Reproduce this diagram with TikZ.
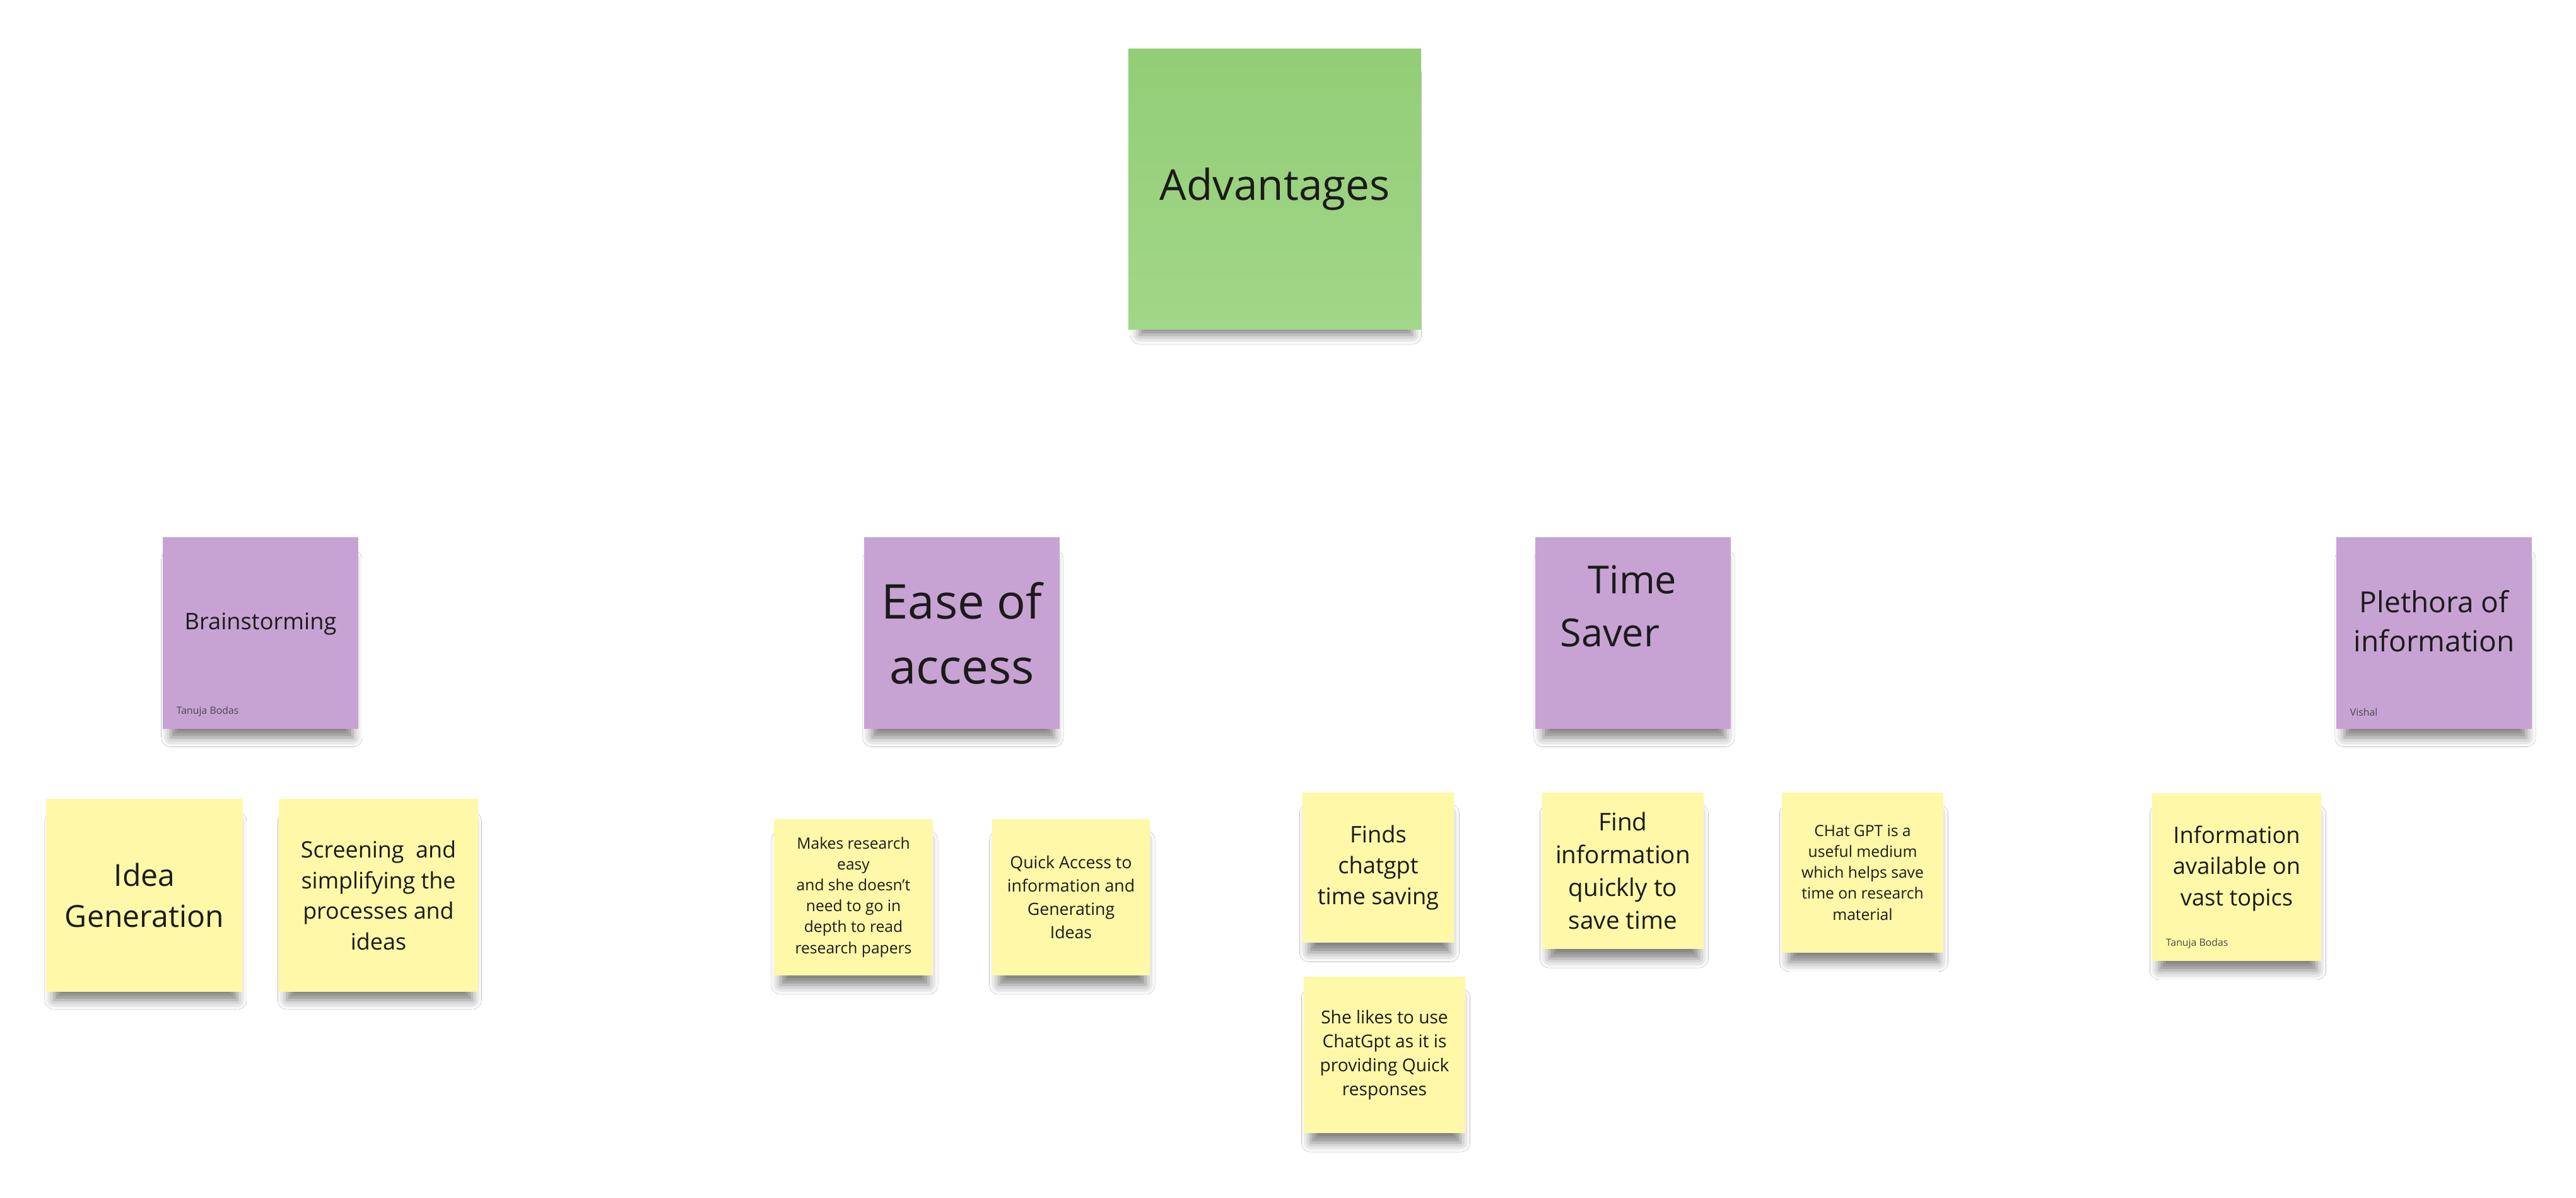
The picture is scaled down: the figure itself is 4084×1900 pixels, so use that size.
\documentclass[tikz,border=0pt]{standalone}
\usepackage{fontspec}
\setmainfont{Open Sans}
\usetikzlibrary{shadows.blur}
\definecolor{greentop}{HTML}{92CE76}
\definecolor{greenbot}{HTML}{A2D688}
\definecolor{notepurple}{HTML}{C7A3D4}
\definecolor{noteyellow}{HTML}{FEF8A8}
\definecolor{ink}{HTML}{1C1A1A}

\begin{document}
\begin{tikzpicture}[x=0.01cm,y=-0.01cm]
		\tikzstyle{sticky}=[rectangle,inner sep=4pt,align=center,text=ink,blur shadow={shadow xshift=0.02cm,shadow yshift=-0.26cm,shadow scale=0.93,shadow opacity=50,shadow blur radius=0.16cm}]
		\tikzstyle{head}=[sticky,top color=greentop,bottom color=greenbot,minimum width=4.64cm,minimum height=4.45cm]
		\tikzstyle{topic}=[sticky,fill=notepurple,minimum width=3.10cm,minimum height=3.04cm]
		\tikzstyle{idea}=[sticky,fill=noteyellow]
		\tikzstyle{signature}=[anchor=south west,inner sep=0pt,xshift=0.22cm,yshift=0.2cm,text=ink!80,font=\fontsize{4.5}{5}\selectfont]

		\fill[white] (0,0) rectangle (4084,1900);

		\node[head,font=\fontsize{19.2}{26}\selectfont] (adv) at (2021,300) {Advantages};

		\node[topic,font=\fontsize{10.3}{14}\selectfont,text depth=0.37cm] (brain) at (413,1004) {Brainstorming};
		\node[topic,font=\fontsize{21.6}{29.4}\selectfont] (ease) at (1525,1004) {Ease of\\access};
		\node[topic,font=\fontsize{17.4}{23.7}\selectfont,text depth=0.86cm,align=left] (time) at (2589,1004) {\rule{0.44cm}{0pt}Time\rule{0.46cm}{0pt}\\Saver};
		\node[topic,font=\fontsize{13.1}{17.8}\selectfont,text depth=0.38cm] (pleth) at (3859,1004) {Plethora of\\information};

		\node[idea,minimum width=3.12cm,minimum height=3.05cm,font=\fontsize{13.7}{18.6}\selectfont] (gen) at (229,1420) {Idea\\Generation};
		\node[idea,minimum width=3.15cm,minimum height=3.05cm,font=\fontsize{10.2}{13.9}\selectfont] (screen) at (600,1420) {Screening \ and\\simplifying the\\processes and\\ideas};
		\node[idea,minimum width=2.52cm,minimum height=2.47cm,font=\fontsize{7}{9.4}\selectfont] (easy) at (1353,1423) {Makes research\\easy\\and she doesn't\\need to go in\\depth to read\\research papers};
		\node[idea,minimum width=2.50cm,minimum height=2.47cm,font=\fontsize{7.6}{10.5}\selectfont] (quick) at (1698,1423) {Quick Access to\\information and\\Generating\\Ideas};
		\node[idea,minimum width=2.40cm,minimum height=2.37cm,font=\fontsize{10.3}{14}\selectfont] (finds) at (2185,1376) {Finds\\chatgpt\\time saving};
		\node[idea,minimum width=2.55cm,minimum height=2.47cm,font=\fontsize{8}{10.8}\selectfont] (likes) at (2195,1673) {She likes to use\\ChatGpt as it is\\providing Quick\\responses};
		\node[idea,minimum width=2.55cm,minimum height=2.47cm,font=\fontsize{11}{14.8}\selectfont] (fast) at (2573,1381) {Find\\information\\quickly to\\save time};
		\node[idea,minimum width=2.55cm,minimum height=2.53cm,font=\fontsize{7}{9.4}\selectfont] (medium) at (2953,1384) {CHat GPT is a\\useful medium\\which helps save\\time on research\\material};
		\node[idea,minimum width=2.68cm,minimum height=2.66cm,font=\fontsize{10.3}{14}\selectfont,text depth=0.36cm] (vast) at (3546,1391) {Information\\available on\\vast topics};

		\node[signature] (sig1) at (brain.south west) {Tanuja Bodas};
		\node[signature] (sig2) at (pleth.south west) {Vishal};
		\node[signature] (sig3) at (vast.south west) {Tanuja Bodas};
\end{tikzpicture}
\end{document}
